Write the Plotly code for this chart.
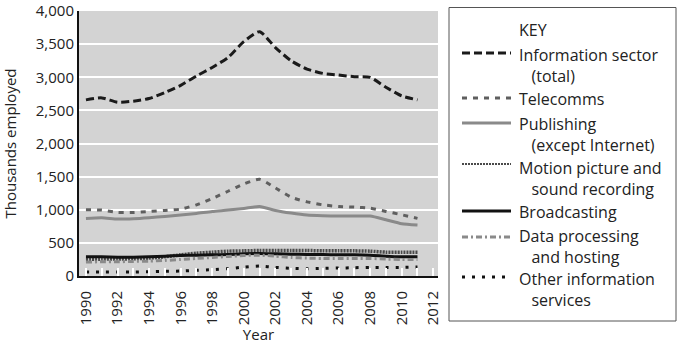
import plotly.graph_objects as go

years = list(range(1990, 2012))
info_total = [2660, 2690, 2625, 2640, 2680, 2770, 2880, 3020, 3150, 3300, 3540, 3690, 3450, 3250, 3125, 3060, 3035, 3010, 3000, 2850, 2720, 2660]
telecomms = [1000, 995, 960, 960, 975, 990, 1010, 1075, 1170, 1280, 1390, 1460, 1330, 1190, 1120, 1075, 1050, 1040, 1025, 975, 925, 870]
publishing = [870, 880, 860, 865, 880, 900, 920, 945, 975, 995, 1020, 1050, 990, 950, 920, 910, 905, 905, 905, 850, 790, 770]
motion = [250, 255, 255, 260, 270, 290, 320, 345, 360, 375, 380, 385, 385, 385, 385, 380, 380, 380, 375, 360, 360, 360]
broadcasting = [290, 290, 285, 285, 290, 300, 310, 315, 320, 325, 335, 340, 335, 330, 325, 325, 320, 320, 315, 300, 290, 290]
data_proc = [210, 215, 215, 220, 225, 235, 250, 265, 280, 295, 310, 315, 300, 280, 270, 265, 265, 265, 265, 255, 250, 250]
other_info = [60, 60, 60, 60, 65, 70, 75, 85, 95, 110, 135, 150, 130, 115, 110, 115, 120, 125, 130, 130, 130, 135]
y_ticks = [0, 500, 1000, 1500, 2000, 2500, 3000, 3500, 4000]

# name, second line, values, colour, dash, width in plot, width in key
series = [
    ("Information sector", "(total)", info_total, "#1a1a1a", "8px,4px", 3, 3),
    ("Telecomms", None, telecomms, "#5f5f5f", "5px,6px", 3, 3),
    ("Publishing", "(except Internet)", publishing, "#8a8a8a", "solid", 3, 3),
    ("Motion picture and", "sound recording", motion, "#4a4a4a", "2px,1px", 3.5, 2),
    ("Broadcasting", None, broadcasting, "#111111", "solid", 3, 3),
    ("Data processing", "and hosting", data_proc, "#8a8a8a", "6px,3px,2px,3px", 3, 3),
    ("Other information", "services", other_info, "#111111", "3px,7px", 3, 3),
]

FONT = "Open Sans"
FS = 15
FL = 16
W, H = 677, 344
L, R, T, B = 79, 438, 11, 276

fig = go.Figure()
for name, name2, vals, col, dash, w, wk in series:
    fig.add_trace(go.Scatter(x=years, y=vals, mode="lines", name=name,
                             line=dict(color=col, dash=dash, width=w, shape="spline", smoothing=0.6),
                             showlegend=False))

def px(x):
    return (x - L) / (R - L)

def py(y):
    return (B - y) / (B - T)

shapes = []
annotations = []
shapes.append(dict(type="rect", xref="paper", yref="paper",
                   x0=px(449), x1=px(676), y0=py(7.5), y1=py(321),
                   line=dict(color="#555555", width=1), fillcolor="white", layer="below"))
annotations.append(dict(text="KEY", xref="paper", yref="paper", x=px(518), y=py(30),
                        xanchor="left", yanchor="middle", showarrow=False, borderpad=0,
                        font=dict(family=FONT, size=FL, color="#222")))
# (first-line centre y, sample y)
rows = [(54, 53), (98, 98), (123, 123), (167, 164), (211, 211), (235, 237), (278, 277)]
NB = "\u00a0"
for (name, name2, vals, col, dash, w, wk), (y1, ys) in zip(series, rows):
    shapes.append(dict(type="line", xref="paper", yref="paper",
                       x0=px(462), x1=px(511), y0=py(ys), y1=py(ys),
                       line=dict(color=col, dash=dash, width=wk)))
    text = name if not name2 else name + "<br>" + NB * 3 + name2
    annotations.append(dict(text=text, xref="paper", yref="paper", x=px(518), y=py(y1 - 11),
                            xanchor="left", yanchor="top", align="left", showarrow=False, borderpad=0,
                            font=dict(family=FONT, size=FL, color="#222")))

fig.update_layout(
    width=W, height=H,
    margin=dict(l=L, r=W - R, t=T, b=H - B, autoexpand=False),
    paper_bgcolor="white", plot_bgcolor="#d3d3d3",
    font=dict(family=FONT, size=FS, color="#222"),
    shapes=shapes, annotations=annotations,
    xaxis=dict(range=[1989.56, 2012.3], dtick=2, tick0=1990, tickangle=-90,
               ticks="inside", tickcolor="white", ticklen=8, tickwidth=1.5,
               minor=dict(dtick=1, ticks="inside", tickcolor="white", ticklen=8, tickwidth=1.5, showgrid=False),
               showgrid=False, showline=True, linecolor="#111", linewidth=2,
               ticklabelstandoff=7, ticklabeloverflow="allow", automargin=False,
               title=dict(text="Year", standoff=4, font=dict(size=FS)),
               tickfont=dict(size=FS), zeroline=False),
    yaxis=dict(range=[0, 4002], tickvals=y_ticks,
               tickformat=",", showgrid=True, ticklabeloverflow="allow", automargin=False,
               gridcolor="white", gridwidth=1.5, showline=True, linecolor="#111", linewidth=2,
               ticks="", title=dict(text="Thousands employed", standoff=18, font=dict(size=FS)),
               tickfont=dict(size=FS), zeroline=False),
)

fig.write_html("out.html")
